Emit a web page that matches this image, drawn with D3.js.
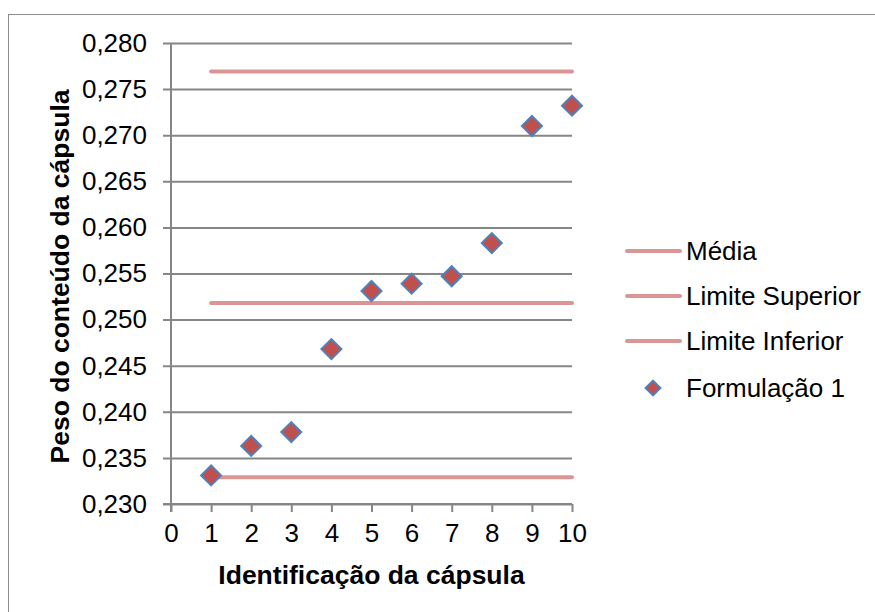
<!DOCTYPE html>
<html>
<head>
<meta charset="utf-8">
<script src="https://cdn.jsdelivr.net/npm/d3@7/dist/d3.min.js"></script>
<style>
  html, body { margin: 0; padding: 0; background: #fff; }
  svg { display: block; }
  text { font-family: "Liberation Sans", Arial, sans-serif; fill: #000; }
</style>
</head>
<body>
<svg id="chart" width="875" height="612"></svg>
<script>
// Capsule content weights, formulation 1
const capsules = [1, 2, 3, 4, 5, 6, 7, 8, 9, 10];
const weights = [0.2331, 0.2363, 0.2378, 0.2468, 0.2531, 0.2539, 0.2547, 0.2583, 0.2710, 0.2732];

// Reference lines (mean and limits), drawn across capsules 1..10
const refNames = ["Média", "Limite Superior", "Limite Inferior"];
const refValues = [0.2518, 0.2769, 0.2329];
const refSpan = [1, 10];

const xTicks = d3.range(0, 11, 1);
const yTicks = d3.range(0.230, 0.2801, 0.005);

const lineColor = "#d99694";
const markerFill = "#c0504d";
const markerStroke = "#4f81bd";
const gridColor = "#868686";
const fontSize = 26;

const svg = d3.select("#chart");

// chart border
svg.append("rect")
  .attr("x", 8.5).attr("y", 14.5)
  .attr("width", 880).attr("height", 620)
  .attr("fill", "none").attr("stroke", "#8c8c8c").attr("stroke-width", 1);

const x = d3.scaleLinear().domain([0, 10]).range([171, 572]);
const y = d3.scaleLinear().domain([0.230, 0.280]).range([504, 43]);

const fmt = v => d3.format(".3f")(v).replace(".", ",");

// horizontal gridlines with left tick stubs
const yAxis = d3.axisLeft(y).tickValues(yTicks).tickFormat(fmt)
  .tickSize(-(x(10) - x(0))).tickPadding(24);
const gy = svg.append("g").attr("transform", `translate(${x(0)},0)`).call(yAxis);
gy.select(".domain").remove();
gy.selectAll(".tick line")
  .attr("x1", -8)
  .attr("stroke", gridColor).attr("stroke-width", 2);
gy.selectAll(".tick text").attr("font-size", fontSize).attr("fill", "#000");

// vertical axis line
svg.append("line")
  .attr("x1", x(0)).attr("x2", x(0))
  .attr("y1", y(0.280)).attr("y2", y(0.230) + 8)
  .attr("stroke", gridColor).attr("stroke-width", 2);

// x axis
const xAxis = d3.axisBottom(x).tickValues(xTicks).tickFormat(d3.format("d"))
  .tickSize(8).tickPadding(12).tickSizeOuter(0);
const gx = svg.append("g").attr("transform", `translate(0,${y(0.230)})`).call(xAxis);
gx.select(".domain").attr("stroke", gridColor).attr("stroke-width", 2)
  .attr("d", `M${x(0) - 8},0H${x(10)}`);
gx.selectAll(".tick line").attr("stroke", gridColor).attr("stroke-width", 2);
gx.selectAll(".tick text").attr("font-size", fontSize).attr("fill", "#000");

// reference lines
svg.append("g").selectAll("line").data(refValues).join("line")
  .attr("x1", x(refSpan[0])).attr("x2", x(refSpan[1]))
  .attr("y1", d => y(d)).attr("y2", d => y(d))
  .attr("stroke", lineColor).attr("stroke-width", 4).attr("stroke-linecap", "round");

// diamond markers
const diamond = d3.symbol().type(d3.symbolSquare).size(200);
svg.append("g").selectAll("path").data(capsules).join("path")
  .attr("d", diamond)
  .attr("transform", (d, i) => `translate(${x(d)},${y(weights[i])}) rotate(45)`)
  .attr("fill", markerFill).attr("stroke", markerStroke).attr("stroke-width", 2);

// axis titles
svg.append("text")
  .attr("x", (x(0) + x(10)) / 2).attr("y", 584)
  .attr("text-anchor", "middle").attr("font-size", 26.5).attr("font-weight", "bold")
  .text("Identificação da cápsula");

svg.append("text")
  .attr("transform", `translate(69,${(y(0.230) + y(0.280)) / 2 + 3}) rotate(-90)`)
  .attr("text-anchor", "middle").attr("font-size", 26.5).attr("font-weight", "bold")
  .text("Peso do conteúdo da cápsula");

// legend
const legendItems = refNames.map(n => ({ name: n, kind: "line" }))
  .concat([{ name: "Formulação 1", kind: "marker" }]);
const legendY = [251, 296, 341, 388];
const lg = svg.append("g");
legendItems.forEach((item, i) => {
  const g = lg.append("g").attr("transform", `translate(0,${legendY[i]})`);
  if (item.kind === "line") {
    g.append("line").attr("x1", 627).attr("x2", 680).attr("y1", 0).attr("y2", 0)
      .attr("stroke", lineColor).attr("stroke-width", 4).attr("stroke-linecap", "round");
  } else {
    g.append("path").attr("d", d3.symbol().type(d3.symbolSquare).size(110))
      .attr("transform", "translate(653,0) rotate(45)")
      .attr("fill", markerFill).attr("stroke", markerStroke).attr("stroke-width", 2);
  }
  g.append("text").attr("x", 686).attr("y", 0).attr("dy", "0.35em")
    .attr("font-size", fontSize).text(item.name);
});
</script>
</body>
</html>
